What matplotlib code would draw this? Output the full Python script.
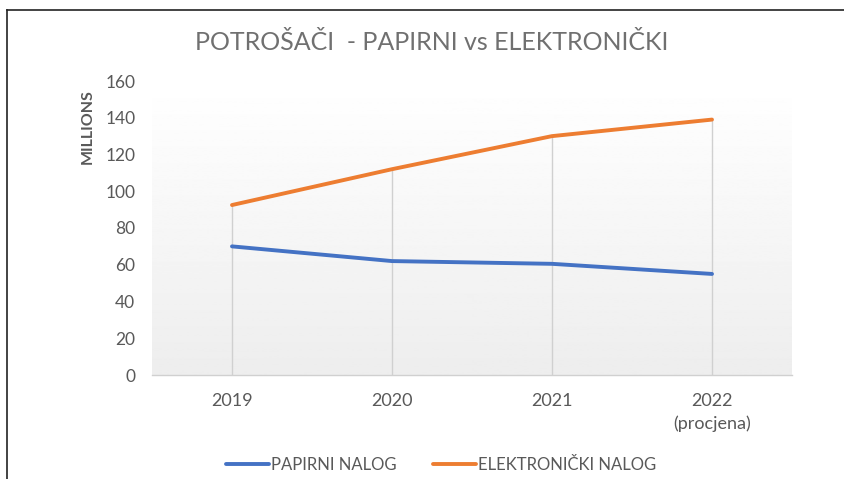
import matplotlib
matplotlib.use('Agg')

import matplotlib.pyplot as plt
import numpy as np
from matplotlib.lines import Line2D

# data (millions)
years = ['2019', '2020', '2021', '2022\n(procjena)']
papirni = [70, 62, 60.5, 55]
elektronicki = [92.5, 112, 130, 139]

BLUE = '#4472C4'
ORANGE = '#ED7D31'
TEXT = '#595959'

plt.rcParams['font.family'] = ['Lato', 'DejaVu Sans']

fig = plt.figure(figsize=(8.45, 4.79), dpi=100)
ax = fig.add_axes([152 / 845, 1 - 375 / 479, 640 / 845, 294 / 479])

x = np.arange(len(years))

# plot area background: white on top fading to light grey
grad = np.linspace(1.0, 0.93, 256).reshape(-1, 1)
ax.imshow(grad, extent=[0, 1, 0, 1], transform=ax.transAxes, cmap='gray',
          vmin=0, vmax=1, aspect='auto', zorder=0)

# drop lines
tops = np.maximum(papirni, elektronicki)
ax.vlines(x, 0, tops, color='#d0d0d0', lw=1, zorder=1)

ax.plot(x, papirni, color=BLUE, lw=2.8, solid_capstyle='round', zorder=3, label='PAPIRNI NALOG')
ax.plot(x, elektronicki, color=ORANGE, lw=2.8, solid_capstyle='round', zorder=3, label='ELEKTRONIČKI NALOG')

ax.set_xlim(-0.5, len(years) - 0.5)
ax.set_ylim(0, 160)
ax.set_yticks(np.arange(0, 161, 20))
ax.set_xticks(x)
ax.set_xticklabels(years, fontsize=13, color=TEXT, linespacing=1.45)
ax.tick_params(axis='y', labelsize=12.5, labelcolor=TEXT, length=0, pad=12)
ax.tick_params(axis='x', length=0, pad=13)

for s in ['top', 'right', 'left']:
    ax.spines[s].set_visible(False)
ax.spines['bottom'].set_color('#d0d0d0')
ax.spines['bottom'].set_linewidth(1)

fig.text(88 / 845, 1 - 127 / 479, 'MILLIONS', rotation=90, ha='center', va='center',
         fontsize=11.5, color=TEXT, fontweight='bold')

fig.text(432 / 845, 1 - 42 / 479, 'POTROŠAČI  - PAPIRNI vs ELEKTRONIČKI',
         ha='center', va='center', fontsize=18, color='#707070')

fig.legend(loc='center', bbox_to_anchor=(441 / 845, 1 - 465 / 479), ncol=2,
           frameon=False, fontsize=12, handlelength=2.6, handletextpad=0.1,
           columnspacing=2.2, labelcolor=TEXT)

# scanned frame
fig.add_artist(Line2D([7 / 845, 1], [1 - 10 / 479, 1 - 10 / 479], color='#222222', lw=1.2))
fig.add_artist(Line2D([7 / 845, 7 / 845], [0, 1 - 10 / 479], color='#222222', lw=1.2))

fig.savefig('out.png', dpi=100, facecolor='white')
